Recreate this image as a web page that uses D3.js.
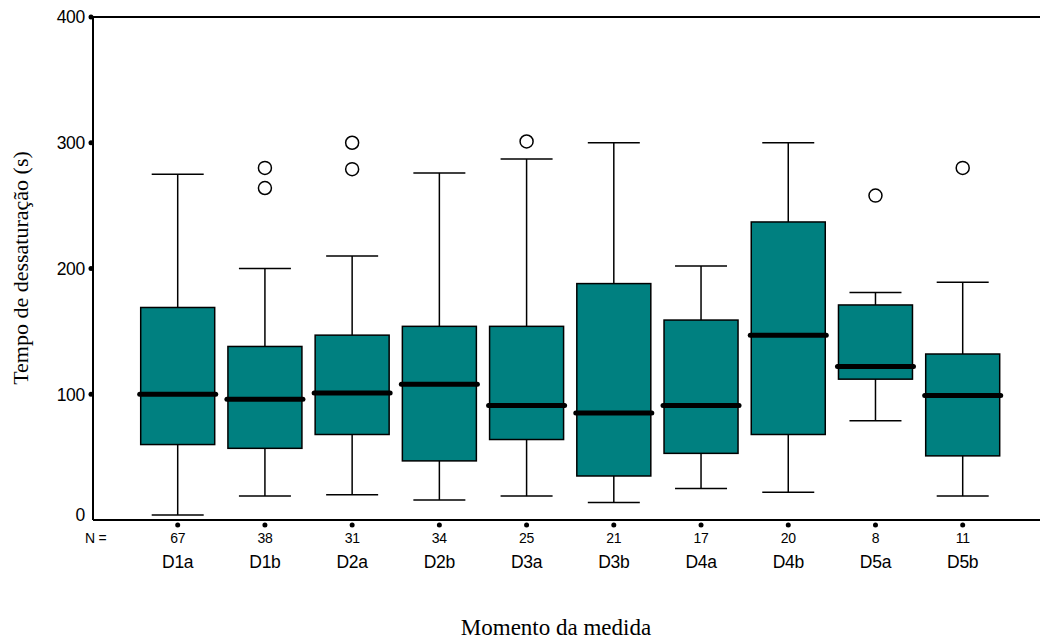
<!DOCTYPE html>
<html><head><meta charset="utf-8">
<script src="https://cdn.jsdelivr.net/npm/d3@7"></script>
<style>body{margin:0;background:#fff}</style>
</head><body>
<svg id="chart" width="1040" height="640"></svg>
<script>
const categories = ["D1a","D1b","D2a","D2b","D3a","D3b","D4a","D4b","D5a","D5b"];
const counts = [67,38,31,34,25,21,17,20,8,11];
const whiskerLow = [4,19,20,16,19,14,25,22,79,19];
const q1 = [60,57,68,47,64,35,53,68,112,51];
const median = [100,96,101,108,91,85,91,147,122,99];
const q3 = [169,138,147,154,154,188,159,237,171,132];
const whiskerHigh = [275,200,210,276,287,300,202,300,181,189];
const outliers = [[],[280,264],[300,279],[],[301],[],[],[],[258],[280]];
const yTicks = [0,100,200,300,400];

const svg = d3.select("#chart");
const y = d3.scaleLinear().domain([0,400]).range([520,17]);
const x = d3.scalePoint().domain(categories).range([177.7,962.7]);
const teal = "#008080";
const boxW = 74, capW = 52;
const sans = "Liberation Sans, Arial, sans-serif";
const serif = "Liberation Serif, Times New Roman, serif";

// frame lines
svg.append("line").attr("x1",93).attr("x2",1040).attr("y1",y(400)).attr("y2",y(400)).attr("stroke","#000").attr("stroke-width",2);
svg.append("line").attr("x1",93).attr("x2",93).attr("y1",y(400)).attr("y2",y(0)).attr("stroke","#000").attr("stroke-width",2);
svg.append("line").attr("x1",93).attr("x2",1040).attr("y1",y(0)).attr("y2",y(0)).attr("stroke","#000").attr("stroke-width",2);

// y ticks
const yg = svg.append("g");
yTicks.forEach(t=>{
  if(t>0) yg.append("circle").attr("cx",91).attr("cy",y(t)).attr("r",2.5).attr("fill","#000");
  yg.append("text").attr("x",85).attr("y",t===0?y(t)-5:y(t)).attr("dy","0.36em")
    .attr("text-anchor","end").attr("font-family",sans)
    .attr("font-size",17.5).attr("letter-spacing",-0.3).text(t);
});

// groups
const data = categories.map((c,i)=>({c,i,lo:whiskerLow[i],q1:q1[i],md:median[i],q3:q3[i],hi:whiskerHigh[i],out:outliers[i],n:counts[i]}));
const g = svg.selectAll("g.box").data(data).join("g").attr("class","box");
g.append("line").attr("x1",d=>x(d.c)).attr("x2",d=>x(d.c)).attr("y1",d=>y(d.hi)).attr("y2",d=>y(d.q3)).attr("stroke","#000").attr("stroke-width",1.5);
g.append("line").attr("x1",d=>x(d.c)).attr("x2",d=>x(d.c)).attr("y1",d=>y(d.q1)).attr("y2",d=>y(d.lo)).attr("stroke","#000").attr("stroke-width",1.5);
g.append("line").attr("x1",d=>x(d.c)-capW/2).attr("x2",d=>x(d.c)+capW/2).attr("y1",d=>y(d.hi)).attr("y2",d=>y(d.hi)).attr("stroke","#000").attr("stroke-width",1.5);
g.append("line").attr("x1",d=>x(d.c)-capW/2).attr("x2",d=>x(d.c)+capW/2).attr("y1",d=>y(d.lo)).attr("y2",d=>y(d.lo)).attr("stroke","#000").attr("stroke-width",1.5);
g.append("rect").attr("x",d=>x(d.c)-boxW/2).attr("width",boxW).attr("y",d=>y(d.q3)).attr("height",d=>y(d.q1)-y(d.q3))
  .attr("fill",teal).attr("stroke","#000").attr("stroke-width",1.5);
g.append("line").attr("x1",d=>x(d.c)-boxW/2-1).attr("x2",d=>x(d.c)+boxW/2+1).attr("y1",d=>y(d.md)).attr("y2",d=>y(d.md))
  .attr("stroke","#000").attr("stroke-width",5).attr("stroke-linecap","round");
g.selectAll("circle.out").data(d=>d.out.map(v=>({c:d.c,v}))).join("circle").attr("class","out")
  .attr("cx",d=>x(d.c)).attr("cy",d=>y(d.v)).attr("r",6.5).attr("fill","#fff").attr("stroke","#000").attr("stroke-width",1.5);
// x tick dots
g.append("circle").attr("cx",d=>x(d.c)).attr("cy",525).attr("r",2.5).attr("fill","#000");
g.append("text").attr("x",d=>x(d.c)).attr("y",538).attr("dy","0.36em").attr("text-anchor","middle")
  .attr("font-family",sans).attr("font-size",14).attr("letter-spacing",-0.3).text(d=>d.n);
g.append("text").attr("x",d=>x(d.c)).attr("y",562).attr("dy","0.36em").attr("text-anchor","middle")
  .attr("font-family",sans).attr("font-size",17.5).attr("letter-spacing",-0.3).text(d=>d.c);

svg.append("text").attr("x",85).attr("y",538).attr("dy","0.36em").attr("font-family",sans)
  .attr("font-size",14).attr("letter-spacing",-0.3).text("N =");

svg.append("text").attr("transform","translate(20,268) rotate(-90)").attr("text-anchor","middle").attr("dy","0.35em")
  .attr("font-family",serif).attr("font-size",22).text("Tempo de dessaturação (s)");
svg.append("text").attr("x",556).attr("y",627).attr("dy","0.35em").attr("text-anchor","middle")
  .attr("font-family",serif).attr("font-size",23).text("Momento da medida");
</script>
</body></html>
